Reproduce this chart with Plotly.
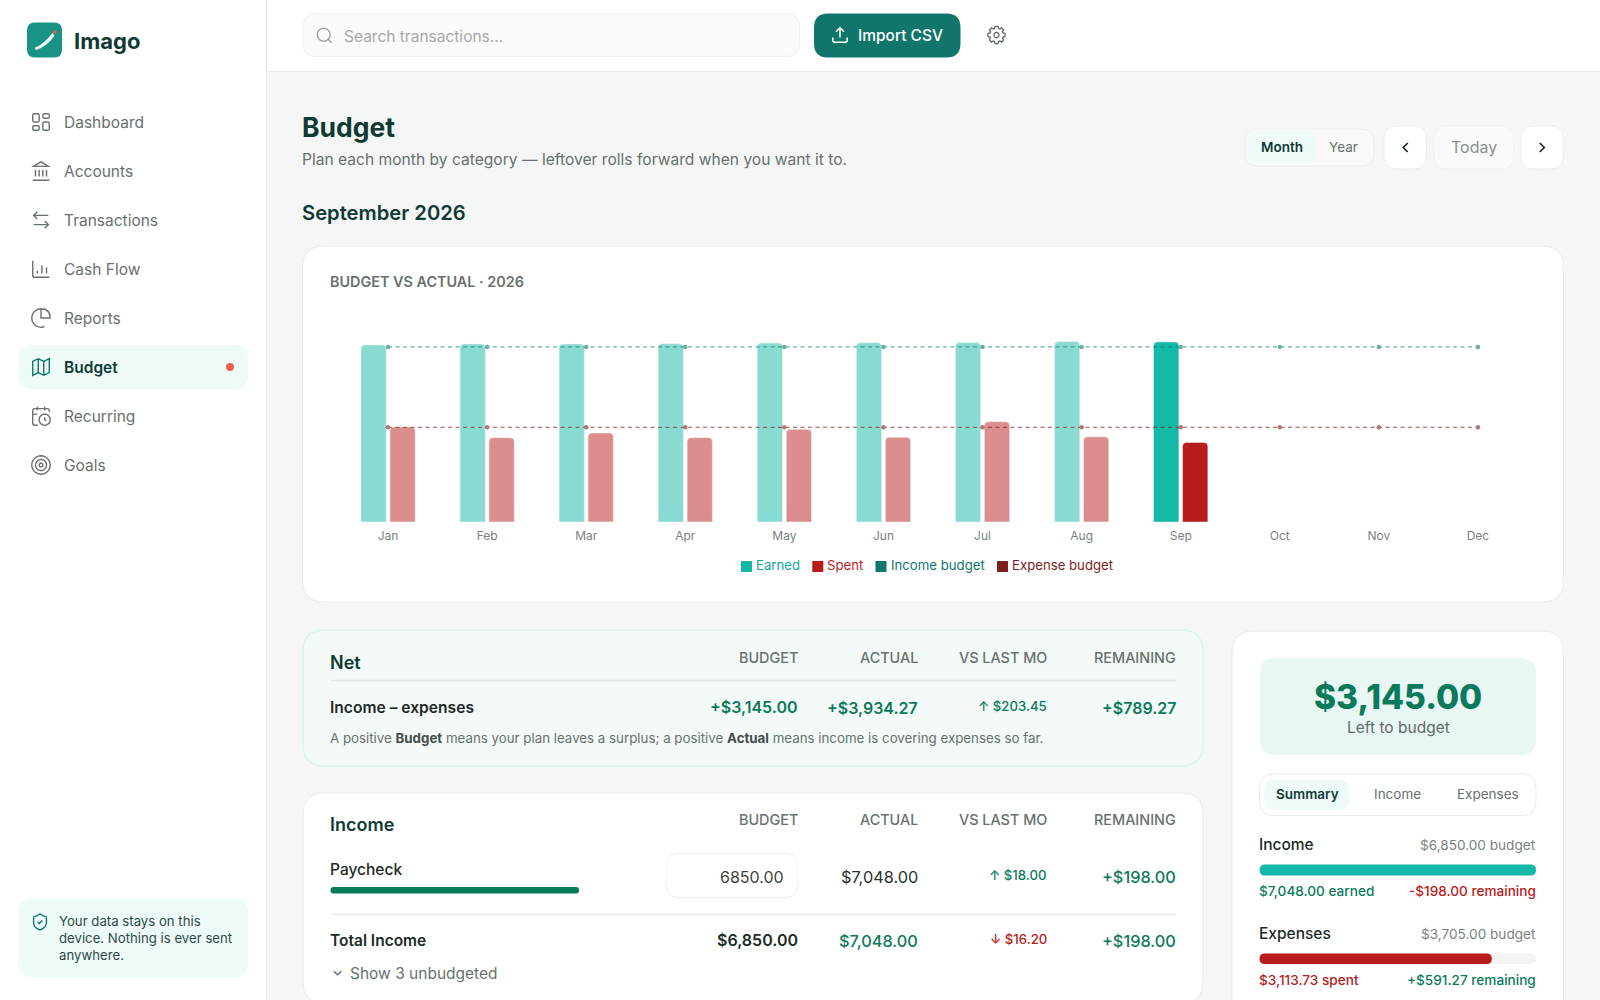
import math
import re

import plotly.graph_objects as go

W = 1600
H = 1000
FONT = "Inter, 'Noto Sans', sans-serif"

# chart values
months = ["Jan", "Feb", "Mar", "Apr", "May", "Jun", "Jul", "Aug", "Sep", "Oct", "Nov", "Dec"]
earned = [6928, 6967, 6967, 6978, 7006, 7017, 7030, 7064, 7048, None, None, None]
spent = [3718, 3300, 3483, 3300, 3627, 3315, 3926, 3333, 3114, None, None, None]
income_budget = [6850] * 12
expense_budget = [3705] * 12
current_month = "Sep"

# summary values
income_total_budget = 6850.00
income_total_actual = 7048.00
expense_total_budget = 3705.00
expense_total_actual = 3113.73

nav_items = ["Dashboard", "Accounts", "Transactions", "Cash Flow", "Reports", "Budget", "Recurring", "Goals"]
table_headers = ["BUDGET", "ACTUAL", "VS LAST MO", "REMAINING"]
legend_items = ["Earned", "Spent", "Income budget", "Expense budget"]

TEAL = "#14b8a6"
RED = "#b91c1c"
TEAL_DARK = "#0f766e"
RED_DARK = "#7f1d1d"
GREEN = "#0b7a5b"
INK = "#0f3a34"
DARK = "#1c2a27"
MUTED = "#68716e"
BORDER = "#e8ebe9"
MINT = "#effbf9"

fig = go.Figure()


# px helpers, everything outside the chart is placed on the page in pixels
def pt(x, y):
    return f"{x / W:.5f},{1 - y / H:.5f}"


def box_path(x0, y0, x1, y1, r):
    return (
        f"M{pt(x0 + r, y0)}L{pt(x1 - r, y0)}Q{pt(x1, y0)} {pt(x1, y0 + r)}"
        f"L{pt(x1, y1 - r)}Q{pt(x1, y1)} {pt(x1 - r, y1)}"
        f"L{pt(x0 + r, y1)}Q{pt(x0, y1)} {pt(x0, y1 - r)}"
        f"L{pt(x0, y0 + r)}Q{pt(x0, y0)} {pt(x0 + r, y0)}Z"
    )


def box(x0, y0, x1, y1, r, fill, line=None, lw=1.0):
    fig.add_shape(
        type="path", path=box_path(x0, y0, x1, y1, r), xref="paper", yref="paper",
        fillcolor=fill, line=dict(color=line or fill, width=lw if line else 0), layer="below",
    )


def rule(x0, x1, y, color=BORDER, lw=1.5):
    fig.add_shape(
        type="line", x0=x0 / W, x1=x1 / W, y0=1 - y / H, y1=1 - y / H, xref="paper", yref="paper",
        line=dict(color=color, width=lw), layer="below",
    )


def text(x, y, s, size=14, color=DARK, weight=400, anchor="left"):
    # annotations keep a little padding around the text, take it back here
    if anchor == "left":
        x -= 1.5
    elif anchor == "right":
        x += 1.0
    y -= 0.5
    fig.add_annotation(
        x=x / W, y=1 - y / H, xref="paper", yref="paper", text=s, showarrow=False,
        xanchor=anchor, yanchor="middle", align=anchor, borderpad=0,
        font=dict(family=FONT, size=size, color=color, weight=weight),
    )


def circ(cx, cy, r):
    pts = [(cx + r * math.cos(i * math.pi / 18), cy + r * math.sin(i * math.pi / 18)) for i in range(36)]
    return "M" + "L".join(f"{a:.2f} {b:.2f}" for a, b in pts) + "Z"


def arc(cx, cy, r, a0, a1):
    n = 24
    pts = []
    for i in range(n + 1):
        a = math.radians(a0 + (a1 - a0) * i / n)
        pts.append((cx + r * math.cos(a), cy + r * math.sin(a)))
    return "M" + "L".join(f"{a:.2f} {b:.2f}" for a, b in pts)


def icon(d, cx, cy, s, color, lw=1.5, fill="rgba(0,0,0,0)"):
    # d is drawn in a 24 unit box, like the usual icon sets
    out = ""
    nums = []
    for tok in re.findall(r"[MLQCZ]|-?[\d.]+", d):
        if tok.isalpha():
            out += tok
        else:
            nums.append(float(tok))
            if len(nums) == 2:
                out += pt(cx + (nums[0] - 12) * s, cy + (nums[1] - 12) * s) + " "
                nums = []
    fig.add_shape(
        type="path", path=out, xref="paper", yref="paper", fillcolor=fill,
        line=dict(color=color, width=lw), layer="below",
    )


def rrect(x, y, w, h, r=1.5):
    return (
        f"M{x + r} {y}L{x + w - r} {y}Q{x + w} {y} {x + w} {y + r}L{x + w} {y + h - r}"
        f"Q{x + w} {y + h} {x + w - r} {y + h}L{x + r} {y + h}Q{x} {y + h} {x} {y + h - r}"
        f"L{x} {y + r}Q{x} {y} {x + r} {y}Z"
    )


def gear():
    pts = []
    for i in range(8):
        a = i * math.pi / 4
        for da, r in [(-0.30, 8.0), (-0.17, 10.2), (0.17, 10.2), (0.30, 8.0)]:
            pts.append((12 + r * math.cos(a + da), 12 + r * math.sin(a + da)))
    return "M" + "L".join(f"{a:.2f} {b:.2f}" for a, b in pts) + "Z" + circ(12, 12, 3)


ICONS = {
    "Dashboard": rrect(3, 3, 7, 9) + rrect(14, 3, 7, 5) + rrect(14, 12, 7, 9) + rrect(3, 16, 7, 5),
    "Accounts": "M3 22L21 22M6 18L6 11M10 18L10 11M14 18L14 11M18 18L18 11M12 2L20 7L4 7Z",
    "Transactions": "M8 3L4 7L8 11M4 7L20 7M16 21L20 17L16 13M20 17L4 17",
    "Cash Flow": "M3 3L3 19Q3 21 5 21L21 21M8 17L8 14M13 17L13 8M18 17L18 10",
    "Reports": arc(12, 12, 10, 68, 284) + "M22 12Q22 2 12 2L12 12Z",
    "Budget": "M3 6L9 3L15 6L21 3L21 18L15 21L9 18L3 21ZM9 3L9 18M15 6L15 21",
    "Recurring": "M21 7.5L21 6Q21 4 19 4L5 4Q3 4 3 6L3 20Q3 22 5 22L8.5 22M16 2L16 6M8 2L8 6M3 10L8 10"
    + circ(16, 16, 6) + "M16 13.5L16 16L17.8 17",
    "Goals": circ(12, 12, 10) + circ(12, 12, 6) + circ(12, 12, 2),
}

# page background pieces
box(0, 0, 266, 1000, 0.01, "#ffffff")
fig.add_shape(type="line", x0=266.5 / W, x1=266.5 / W, y0=0, y1=1, xref="paper", yref="paper",
              line=dict(color=BORDER, width=1), layer="below")
box(267, 0, 1600, 71, 0.01, "#ffffff")
rule(267, 1600, 71.5, lw=1)

# logo
box(27, 22.5, 62, 57.5, 8, "#189486")
fig.add_shape(type="path", path=f"M{pt(34.5, 48)}Q{pt(44, 44)} {pt(52.5, 33)}L{pt(54.5, 35.5)}Q{pt(48, 46)} {pt(36, 50)}Z",
              xref="paper", yref="paper", fillcolor="#eef9f7", line=dict(width=0), layer="below")
box(53.2, 30.2, 56.8, 33.8, 1.8, "#f25c4f")
text(74.5, 41.5, "Imago", size=22, color=INK, weight=700)

# sidebar nav
box(18, 345, 248, 389, 14, MINT)
for i, name in enumerate(nav_items):
    y = 122 + i * 49
    active = name == "Budget"
    icon(ICONS[name], 41, y, 0.92, TEAL_DARK if active else "#68716e", lw=1.4)
    text(64.5, y + 0.7, name, size=15.5, color=INK if active else MUTED, weight=600 if active else 400)
box(226, 363, 234, 371, 4, "#f25c4f")

box(18, 898.5, 248, 977.5, 14, MINT)
icon("M20 13C20 18 16.5 20.5 12.34 21.95Q12 22.1 11.67 21.9C7.5 20.5 4 18 4 13L4 6Q4 5 5 5C7 5 9.5 3.8 11.24 2.28"
     "Q12 1.7 12.76 2.28C14.5 3.8 17 5 19 5Q20 5 20 6ZM9 12L11 14L15 10", 40, 922, 0.8, TEAL_DARK, lw=1.4)
text(59, 938, "Your data stays on this<br>device. Nothing is ever sent<br>anywhere.", size=13.2, color="#2c4a45")

# top bar
box(303, 14, 799.5, 56.5, 13, "#fbfbfb", line="#f0f1f0")
icon(circ(11, 11, 8) + "M21 21L16.65 16.65", 324.5, 35.5, 0.8, "#9da3a1", lw=1.4)
text(344, 36.5, "Search transactions...", size=15.5, color="#a5a9a7")
box(814, 13.5, 960.5, 57.5, 14, "#11766a")
icon("M21 15L21 19Q21 21 19 21L5 21Q3 21 3 19L3 15M17 8L12 3L7 8M12 3L12 15", 840, 35, 0.8, "#ffffff", lw=1.5)
text(858, 35.5, "Import CSV", size=15.5, color="#ffffff", weight=500)
icon(gear(), 996.5, 35, 0.85, "#5f6a67", lw=1.3)

# page heading
text(302.7, 127, "Budget", size=26.5, color=INK, weight=700)
text(302.7, 159.5, "Plan each month by category — leftover rolls forward when you want it to.", size=15.6, color=MUTED)
text(302.7, 213, "September 2026", size=20.2, color=INK, weight=600)

# period controls
box(1245, 129, 1374, 166, 13, "#f8f9f8", line="#eceeed")
box(1247, 131, 1317, 164, 11, MINT)
text(1281.5, 147.5, "Month", size=13.5, color=INK, weight=600, anchor="center")
text(1343.5, 147.5, "Year", size=13.5, color=MUTED, anchor="center")
box(1384, 126, 1426.5, 169, 13, "#ffffff", line="#eceeed")
icon("M15 18L9 12L15 6", 1405.5, 147.5, 0.75, DARK, lw=1.7)
box(1434, 126, 1513.5, 169, 13, "#f9faf9", line="#f0f1f0")
text(1473.5, 148, "Today", size=16, color="#8b908e", anchor="center")
box(1521, 126, 1563.5, 169, 13, "#ffffff", line="#eceeed")
icon("M9 18L15 12L9 6", 1542, 147.5, 0.75, DARK, lw=1.7)

# chart card
box(302.5, 246, 1563.5, 602, 22, "#ffffff", line=BORDER)
text(330, 282, "BUDGET VS ACTUAL · 2026", size=14.4, color=MUTED, weight=600)

point_opacity = [1.0 if m == current_month else 0.5 for m in months]

fig.add_trace(go.Bar(x=months, y=earned, name="Earned", marker=dict(color=TEAL, opacity=point_opacity, cornerradius=4)))
fig.add_trace(go.Bar(x=months, y=spent, name="Spent", marker=dict(color=RED, opacity=point_opacity, cornerradius=4)))
fig.add_trace(go.Scatter(x=months, y=income_budget, name="Income budget", mode="lines+markers", opacity=0.6,
                         line=dict(color=TEAL_DARK, width=1.3, dash="4px,3.5px"), marker=dict(color=TEAL_DARK, size=4.5)))
fig.add_trace(go.Scatter(x=months, y=expense_budget, name="Expense budget", mode="lines+markers", opacity=0.6,
                         line=dict(color=RED_DARK, width=1.3, dash="4px,3.5px"), marker=dict(color=RED_DARK, size=4.5)))

# chart legend, small squares and coloured labels
legend_colors = [TEAL, RED, TEAL_DARK, RED_DARK]
legend_text_colors = ["#14a898", RED, TEAL_DARK, RED_DARK]
legend_x = [741, 812.3, 875.5, 997]
for name, color, tcolor, x in zip(legend_items, legend_colors, legend_text_colors, legend_x):
    box(x, 561, x + 11, 572, 0.5, color)
    text(x + 15.5, 565.5, name, size=13.2, color=tcolor)

# net card
box(303, 630, 1203, 766, 22, "#f3faf8", line="#dcf3ee", lw=1.5)
col_right = [798, 918, 1047, 1176]
for h, x in zip(table_headers, col_right):
    text(x, 657.5, h, size=14.4, color=MUTED, weight=500, anchor="right")
text(330.5, 662.5, "Net", size=18, color=INK, weight=600)
rule(330.5, 1176, 680.5, color="#e2e9e6")
text(330.5, 707.5, "Income – expenses", size=15.6, color=DARK, weight=600)
text(798, 707.5, "+$3,145.00", size=16, color=GREEN, weight=600, anchor="right")
text(918, 708.5, "+$3,934.27", size=16, color=GREEN, weight=600, anchor="right")
text(1047, 706.5, "↑ $203.45", size=13.2, color=GREEN, weight=500, anchor="right")
text(1176, 708.5, "+$789.27", size=16, color=GREEN, weight=600, anchor="right")
text(330.5, 738,
     'A positive <b style="color:#444d4a">Budget</b> means your plan leaves a surplus; a positive '
     '<b style="color:#444d4a">Actual</b> means income is covering expenses so far.',
     size=13.3, color=MUTED)

# income card
box(303, 793, 1203, 1003, 22, "#ffffff", line=BORDER)
for h, x in zip(table_headers, col_right):
    text(x, 820, h, size=14.4, color=MUTED, weight=500, anchor="right")
text(330.5, 825, "Income", size=18, color=INK, weight=600)
text(330.5, 869.5, "Paycheck", size=15.5, color=DARK, weight=500)
paycheck_w = 248.5 * min(1, income_total_actual / income_total_budget)
box(330.5, 887, 330.5 + paycheck_w, 893.5, 3, GREEN)
box(666, 853.5, 798, 897.5, 13, "#ffffff", line="#eceeed")
text(784, 877, "6850.00", size=16, color="#3a4340", anchor="right")
text(918, 877.5, "$7,048.00", size=16.3, color="#2a3330", anchor="right")
text(1047, 875.5, "↑ $18.00", size=13.2, color=GREEN, weight=500, anchor="right")
text(1176, 877.5, "+$198.00", size=16.3, color=GREEN, weight=500, anchor="right")
rule(330.5, 1176, 914.5, color="#e6e9e7")
text(330.5, 940.5, "Total Income", size=15.5, color=DARK, weight=600)
text(798, 940.5, "$6,850.00", size=16, color=DARK, weight=600, anchor="right")
text(918, 941, "$7,048.00", size=16.3, color=GREEN, weight=500, anchor="right")
text(1047, 939.5, "↓ $16.20", size=13.2, color=RED, weight=500, anchor="right")
text(1176, 941, "+$198.00", size=16.3, color=GREEN, weight=500, anchor="right")
icon("M6 9L12 15L18 9", 337.5, 973, 0.62, MUTED, lw=1.4)
text(350.5, 973.5, "Show 3 unbudgeted", size=15.5, color=MUTED)

# summary card
box(1232, 631, 1563.5, 1030, 22, "#ffffff", line=BORDER)
box(1259.5, 658, 1536, 755, 16, "#e8f6f4")
text(1398, 697, "$3,145.00", size=33.5, color=GREEN, weight=800, anchor="center")
text(1398, 727.5, "Left to budget", size=15.5, color="#5f6b67", anchor="center")
box(1259.5, 774, 1536, 815.5, 14, "#ffffff", line="#e9ecea")
box(1264, 779.5, 1349.5, 809.5, 11, MINT)
text(1307, 794.5, "Summary", size=13.5, color=INK, weight=600, anchor="center")
text(1397.5, 794.5, "Income", size=13.5, color=MUTED, anchor="center")
text(1488, 794.5, "Expenses", size=13.5, color=MUTED, anchor="center")

BAR_X0 = 1259.5
BAR_X1 = 1536
BAR_W = BAR_X1 - BAR_X0

text(BAR_X0, 845, "Income", size=15.5, color=DARK, weight=500)
text(BAR_X1, 845.5, "$6,850.00 budget", size=13.6, color="#7a827f", anchor="right")
box(BAR_X0, 864.5, BAR_X1, 875.5, 5.5, "#f3f4f3")
box(BAR_X0, 864.5, BAR_X0 + BAR_W * min(1, income_total_actual / income_total_budget), 875.5, 5.5, TEAL)
text(BAR_X0, 891, "$7,048.00 earned", size=13.6, color=GREEN, weight=500)
text(BAR_X1, 891, "-$198.00 remaining", size=13.6, color=RED, weight=500, anchor="right")

text(BAR_X0, 934, "Expenses", size=15.5, color=DARK, weight=500)
text(BAR_X1, 934.5, "$3,705.00 budget", size=13.6, color="#7a827f", anchor="right")
box(BAR_X0, 953.5, BAR_X1, 964, 5.2, "#f3f4f3")
box(BAR_X0, 953.5, BAR_X0 + BAR_W * min(1, expense_total_actual / expense_total_budget), 964, 5.2, RED)
text(BAR_X0, 980, "$3,113.73 spent", size=13.6, color=RED, weight=500)
text(BAR_X1, 980, "+$591.27 remaining", size=13.6, color=GREEN, weight=500, anchor="right")

fig.update_layout(
    width=W,
    height=H,
    margin=dict(l=0, r=0, t=0, b=0),
    autosize=False,
    paper_bgcolor="#f5f7f6",
    plot_bgcolor="rgba(0,0,0,0)",
    showlegend=False,
    barmode="group",
    bargap=0.415,
    bargroupgap=0.128,
    font=dict(family=FONT),
    xaxis=dict(
        domain=[338.5 / W, 1527.5 / W],
        range=[-0.5, 11.5],
        showgrid=False,
        zeroline=False,
        showline=False,
        ticks="outside",
        ticklen=3,
        tickcolor="rgba(0,0,0,0)",
        tickfont=dict(family=FONT, size=12, color="#7a827f"),
    ),
    yaxis=dict(
        domain=[1 - 522 / H, 1 - 318 / H],
        range=[0, 7984],
        visible=False,
    ),
)

# the page's default body margin would push the figure off the 1600x1000 window
fig.write_html(
    "out.html",
    config={"displayModeBar": False},
    post_script="document.body.style.margin='0';document.documentElement.style.overflow='hidden';",
)
